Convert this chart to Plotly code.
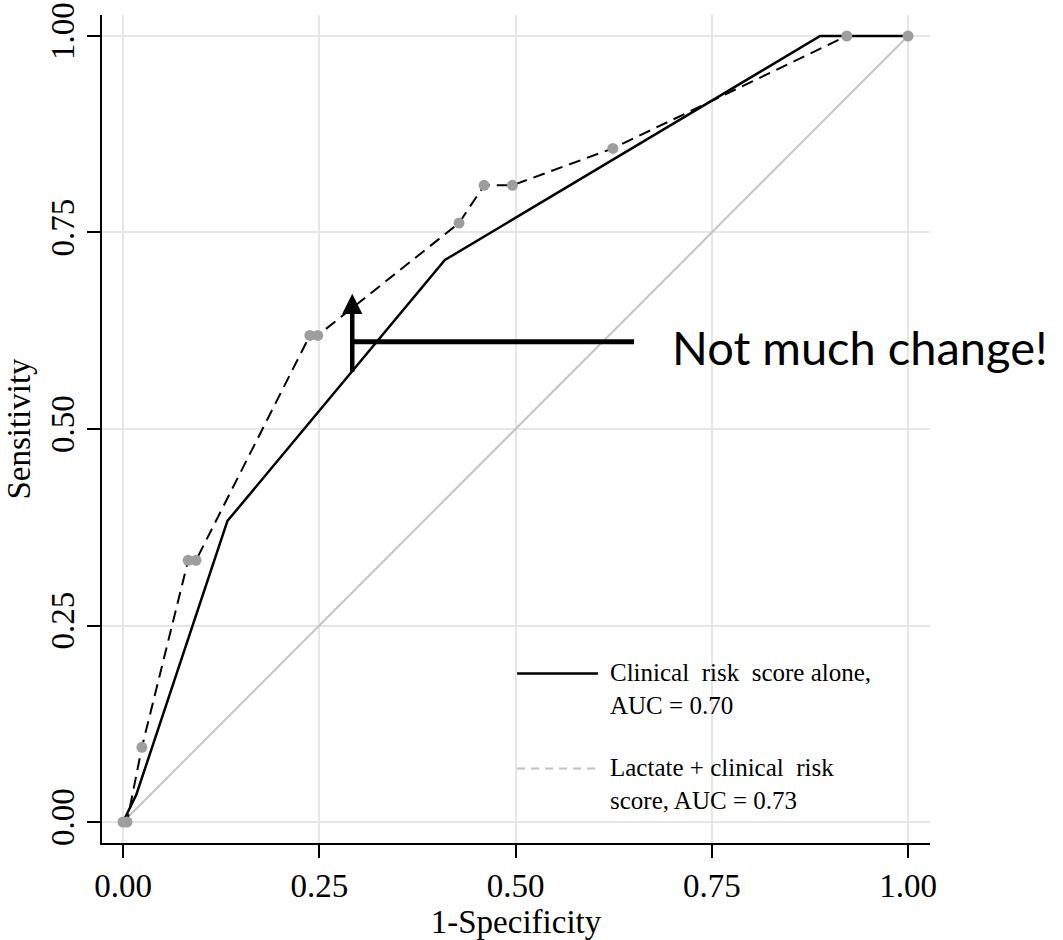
import plotly.graph_objects as go

# ROC data
clin_x = [0.0, 0.017, 0.133, 0.410, 0.888, 1.0]
clin_y = [0.0, 0.035, 0.383, 0.715, 1.0, 1.0]

lact_x = [0.0, 0.005, 0.024, 0.083, 0.093, 0.238, 0.248, 0.428, 0.460, 0.496, 0.624, 0.922, 1.0]
lact_y = [0.0, 0.0, 0.095, 0.333, 0.333, 0.619, 0.619, 0.762, 0.810, 0.810, 0.857, 1.0, 1.0]

ref_x = [0.0, 1.0]
ref_y = [0.0, 1.0]

tick_vals = [0.0, 0.25, 0.5, 0.75, 1.0]
tick_text = ["0.00", "0.25", "0.50", "0.75", "1.00"]

NB = "\u00a0"
legend_labels = [f"Clinical{NB} risk{NB} score alone,<br>AUC = 0.70",
                 f"Lactate + clinical{NB} risk<br>score, AUC = 0.73"]

SERIF = "Liberation Serif, Times New Roman, serif"

fig = go.Figure()
fig.add_trace(go.Scatter(x=ref_x, y=ref_y, mode="lines",
                         line=dict(color="#c4c4c4", width=2), showlegend=False, hoverinfo="skip"))
fig.add_trace(go.Scatter(x=clin_x, y=clin_y, mode="lines",
                         line=dict(color="black", width=2.5), showlegend=False))
fig.add_trace(go.Scatter(x=lact_x, y=lact_y, mode="lines+markers",
                         line=dict(color="black", width=2, dash="12px,7px"),
                         marker=dict(color="#9e9e9e", size=11), showlegend=False))

axis_common = dict(
    showline=True, linecolor="black", linewidth=1.5, mirror=False,
    ticks="outside", ticklen=13, tickwidth=1.5, tickcolor="black",
    showgrid=True, gridcolor="#e6e6e6", gridwidth=2, zeroline=False,
    tickvals=tick_vals, ticktext=tick_text, automargin=False,
    tickfont=dict(family=SERIF, size=33, color="black"),
)

fig.update_layout(
    width=1063, height=940,
    margin=dict(l=102, r=133, t=15, b=97),
    plot_bgcolor="white", paper_bgcolor="white",
    xaxis=dict(range=[-0.0268, 1.028], **axis_common,
               title=dict(text="1-Specificity", font=dict(family=SERIF, size=33, color="black"), standoff=4)),
    yaxis=dict(range=[-0.0267, 1.0267], tickangle=-90, **axis_common,
               title=dict(text="Sensitivity", font=dict(family=SERIF, size=33, color="black"), standoff=4)),
)

# Legend drawn manually
fig.add_shape(type="line", xref="x", yref="y", x0=0.502, x1=0.605, y0=0.189, y1=0.189,
              line=dict(color="black", width=2.5))
fig.add_shape(type="line", xref="x", yref="y", x0=0.502, x1=0.605, y0=0.068, y1=0.068,
              line=dict(color="#c0c0c0", width=2, dash="8px,6px"))
fig.add_annotation(x=0.618, y=0.169, xref="x", yref="y", text=legend_labels[0], showarrow=False,
                   xanchor="left", yanchor="middle", align="left",
                   font=dict(family=SERIF, size=25, color="black"))
fig.add_annotation(x=0.618, y=0.048, xref="x", yref="y", text=legend_labels[1], showarrow=False,
                   xanchor="left", yanchor="middle", align="left",
                   font=dict(family=SERIF, size=25, color="black"))

# Callout arrow and line
fig.add_shape(type="line", xref="x", yref="y", x0=0.292, x1=0.651, y0=0.611, y1=0.611,
              line=dict(color="black", width=5))
fig.add_annotation(x=0.292, y=0.672, ax=0.292, ay=0.571, xref="x", yref="y", axref="x", ayref="y",
                   text="", showarrow=True, arrowhead=2, arrowsize=0.9, arrowwidth=4.5, arrowcolor="black")
fig.add_annotation(x=0.697, y=0.604, xref="x", yref="y", text="Not much change!", showarrow=False,
                   xanchor="left", yanchor="middle",
                   font=dict(family="Lato, sans-serif", size=47, color="black"))

fig.write_html("out.html")
